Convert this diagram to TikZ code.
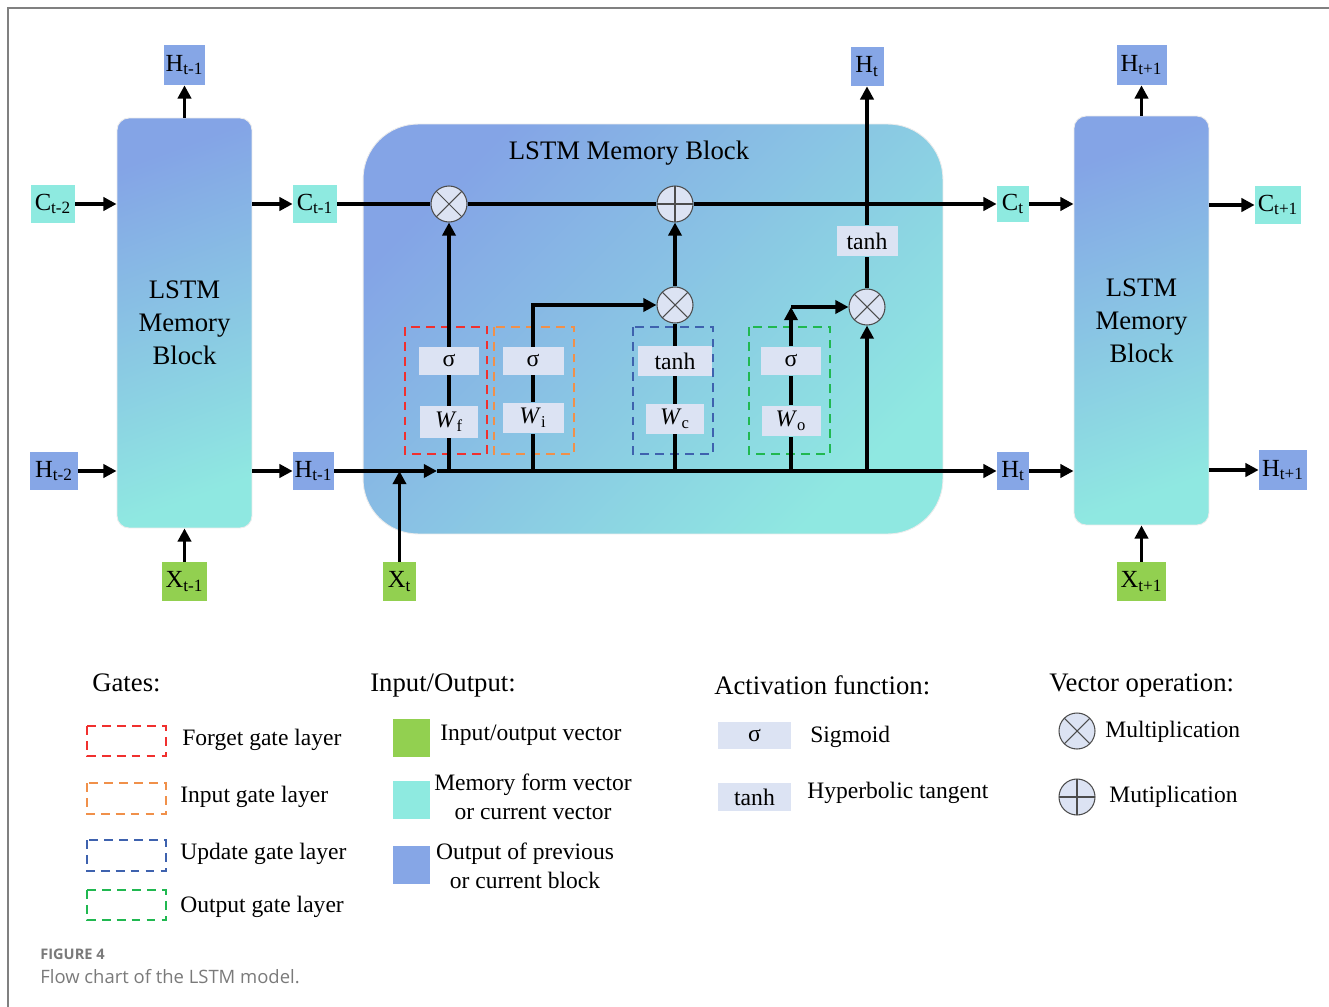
\documentclass[tikz,border=0pt]{standalone}
\usepackage{fontspec}
\setmainfont{Liberation Serif}
\newfontfamily\capfont{Open Sans}
\usetikzlibrary{arrows.meta}

\definecolor{hblue}{HTML}{86A6E6}
\definecolor{ccyan}{HTML}{8EEAE0}
\definecolor{xgreen}{HTML}{92D050}
\definecolor{opfill}{HTML}{DCE3F3}
\definecolor{blktop}{HTML}{84A4E6}
\definecolor{blkbot}{HTML}{8FE8E1}
\definecolor{gred}{HTML}{F0302E}
\definecolor{gorange}{HTML}{F0904A}
\definecolor{gblue}{HTML}{3E62AE}
\definecolor{ggreen}{HTML}{20B850}
\definecolor{capgray}{HTML}{7A7A7A}

\tikzset{
  line/.style={line width=1.9pt},
  arr/.style={line width=1.9pt, -{Triangle[length=7.5pt,width=7.5pt]}},
  vec/.style={inner sep=0pt, font=\fontsize{14}{16}\selectfont},
  hvec/.style={vec, fill=hblue},
  cvec/.style={vec, fill=ccyan},
  xvec/.style={vec, fill=xgreen},
  actbox/.style={fill=opfill, inner sep=0pt, font=\fontsize{13.5}{15}\selectfont},
  opcirc/.style={circle, draw=black!70, fill=opfill, line width=0.6pt, minimum size=0.72cm, inner sep=0pt},
  mulop/.style={opcirc, path picture={\draw[black!70, line width=0.6pt]
      (path picture bounding box.south west) -- (path picture bounding box.north east)
      (path picture bounding box.north west) -- (path picture bounding box.south east);}},
  addop/.style={opcirc, path picture={\draw[black!70, line width=0.6pt]
      (path picture bounding box.north) -- (path picture bounding box.south)
      (path picture bounding box.west) -- (path picture bounding box.east);}},
  block/.style={rounded corners=0.24cm, top color=blktop, bottom color=blkbot, shading angle=20,
      draw=white!85!gray, line width=0.5pt, align=center, font=\fontsize{15.2}{18.7}\selectfont,
      minimum width=2.7cm, minimum height=8.2cm},
  bigblock/.style={rounded corners=1.1cm, top color=blktop, bottom color=blkbot, shading angle=45,
      draw=white!85!gray, line width=0.5pt, minimum width=11.6cm, minimum height=8.2cm},
  gatebox/.style={line width=1.1pt, dash pattern=on 5pt off 3.5pt},
  legtxt/.style={anchor=west, inner sep=0pt, font=\fontsize{13.4}{16.5}\selectfont},
  legtwo/.style={inner sep=0pt, align=center, font=\fontsize{13.4}{16.5}\selectfont},
  leghead/.style={anchor=west, inner sep=0pt, font=\fontsize{15.2}{18}\selectfont},
}

\begin{document}
\begin{tikzpicture}[x=0.02cm, y=-0.02cm]
  \useasboundingbox (0,0) rectangle (1329,1007);
  \draw[gray, line width=0.9pt] (8,1007) -- (8,8) -- (1329,8);

  % memory blocks
  \node[block] (lb) at (184.5,323) {LSTM\\Memory\\Block};
  \node[bigblock] (mid) at (653,329) {};
  \node[block, minimum height=8.18cm] (rb) at (1141.5,320.5) {LSTM\\Memory\\Block};
  \node[font=\fontsize{15.2}{18}\selectfont] (title) at (629,153) {LSTM Memory Block};

  % input / output vectors
  \node[hvec, minimum width=0.82cm, minimum height=0.8cm] (Hup1) at (184.5,65) {H\textsubscript{t-1}};
  \node[cvec, minimum width=0.88cm, minimum height=0.76cm] (Cm2) at (53,204) {C\textsubscript{t-2}};
  \node[cvec, minimum width=0.88cm, minimum height=0.78cm] (Cm1) at (315,204) {C\textsubscript{t-1}};
  \node[hvec, minimum width=0.96cm, minimum height=0.78cm] (Hm2) at (54,471) {H\textsubscript{t-2}};
  \node[hvec, minimum width=0.82cm, minimum height=0.78cm] (Hm1) at (313.5,471) {H\textsubscript{t-1}};
  \node[xvec, minimum width=0.9cm, minimum height=0.78cm] (Xm1) at (184.5,581.5) {X\textsubscript{t-1}};
  \node[xvec, minimum width=0.66cm, minimum height=0.78cm] (Xt) at (399.5,581.5) {X\textsubscript{t}};
  \node[hvec, minimum width=0.66cm, minimum height=0.78cm] (Hup) at (867,66.5) {H\textsubscript{t}};
  \node[cvec, minimum width=0.64cm, minimum height=0.74cm] (Ct) at (1013,204) {C\textsubscript{t}};
  \node[hvec, minimum width=0.64cm, minimum height=0.76cm] (Ht) at (1013,471) {H\textsubscript{t}};
  \node[hvec, minimum width=1.0cm, minimum height=0.8cm] (Hup2) at (1141.5,65) {H\textsubscript{t+1}};
  \node[cvec, minimum width=0.92cm, minimum height=0.78cm] (Cp1) at (1278,205) {C\textsubscript{t+1}};
  \node[hvec, minimum width=0.96cm, minimum height=0.8cm] (Hp1) at (1283,470) {H\textsubscript{t+1}};
  \node[xvec, minimum width=0.98cm, minimum height=0.78cm] (Xp1) at (1141.5,581.5) {X\textsubscript{t+1}};

  % vector operations
  \node[mulop] (fx) at (449,204) {};
  \node[addop] (add) at (675,204) {};
  \node[mulop] (ix) at (675,305) {};
  \node[mulop] (ox) at (867,307) {};

  % activations and weights
  \node[actbox, minimum width=1.2cm, minimum height=0.56cm] (sigf) at (449,361) {σ};
  \node[actbox, minimum width=1.18cm, minimum height=0.64cm] (wf) at (449,422) {\textit{W}\textsubscript{f}};
  \node[actbox, minimum width=1.22cm, minimum height=0.56cm] (sigi) at (533,361) {σ};
  \node[actbox, minimum width=1.22cm, minimum height=0.62cm] (wi) at (533,418) {\textit{W}\textsubscript{i}};
  \node[actbox, minimum width=1.48cm, minimum height=0.6cm] (tanhc) at (675,361) {tanh};
  \node[actbox, minimum width=1.16cm, minimum height=0.6cm] (wc) at (675,419) {\textit{W}\textsubscript{c}};
  \node[actbox, minimum width=1.2cm, minimum height=0.58cm] (sigo) at (791,361) {σ};
  \node[actbox, minimum width=1.18cm, minimum height=0.62cm] (wo) at (791,421) {\textit{W}\textsubscript{o}};
  \node[actbox, minimum width=1.22cm, minimum height=0.62cm] (tanho) at (867,241) {tanh};

  % gate frames
  \draw[gatebox, gred] (405,327) rectangle (487,454);
  \draw[gatebox, gorange] (494,327) rectangle (574,454);
  \draw[gatebox, gblue] (633,327) rectangle (713,454);
  \draw[gatebox, ggreen] (749,327) rectangle (830,454);

  \coordinate (hin) at (437,471);
  \coordinate (hf) at (449,471);
  \coordinate (hi) at (533,471);
  \coordinate (hc) at (675,471);
  \coordinate (ho) at (791,471);
  \coordinate (hh) at (867,471);
  \coordinate (ocorner) at (791,307);

  % outer connections
  \draw[arr] (lb.north) -- (Hup1.south);
  \draw[arr] (Cm2.east) -- (Cm2.east -| lb.west);
  \draw[arr] (Cm1.west -| lb.east) -- (Cm1.west);
  \draw[arr] (Hm2.east) -- (Hm2.east -| lb.west);
  \draw[arr] (Hm1.west -| lb.east) -- (Hm1.west);
  \draw[arr] (Xm1.north) -- (lb.south);
  \draw[arr] (rb.north) -- (Hup2.south);
  \draw[arr] (Ct.east) -- (Ct.east -| rb.west);
  \draw[arr] (Ht.east) -- (Ht.east -| rb.west);
  \draw[arr] (Cp1.west -| rb.east) -- (Cp1.west);
  \draw[arr] (Hp1.west -| rb.east) -- (Hp1.west);
  \draw[arr] (Xp1.north) -- (Xp1.north |- rb.south);

  % cell state
  \draw[line] (Cm1.east) -- (fx.west);
  \draw[line] (fx.east) -- (add.west);
  \draw[arr] (add.east) -- (Ct.west);

  % hidden state
  \draw[arr] (Hm1.east) -- (hin);
  \draw[arr] (hin) -- (Ht.west);
  \draw[arr] (Xt.north) -- (Xt.north |- hin);

  % forget gate
  \draw[line] (hf) -- (wf.south);
  \draw[line] (wf.north) -- (sigf.south);
  \draw[arr] (sigf.north) -- (fx.south);
  % input gate
  \draw[line] (hi) -- (wi.south);
  \draw[line] (wi.north) -- (sigi.south);
  \draw[arr] (sigi.north) |- (ix.west);
  % update
  \draw[line] (hc) -- (wc.south);
  \draw[line] (wc.north) -- (tanhc.south);
  \draw[line] (tanhc.north) -- (ix.south);
  \draw[arr] (ix.north) -- (add.south);
  % output gate
  \draw[line] (ho) -- (wo.south);
  \draw[line] (wo.north) -- (sigo.south);
  \draw[arr] (sigo.north) -- (ocorner);
  \draw[arr] (ocorner) -- (ox.west);
  \draw[arr] (hh) -- (ox.south);
  \draw[line] (ox.north) -- (tanho.south);
  \draw[arr] (tanho.north) -- (Hup.south);

  % legend
  \node[leghead] (lgates) at (92,683) {Gates:};
  \draw[gatebox, gred] (87,726) rectangle (166,756);
  \draw[gatebox, gorange] (87,783) rectangle (166,814);
  \draw[gatebox, gblue] (87,840) rectangle (166,871);
  \draw[gatebox, ggreen] (87,890) rectangle (166,920);
  \node[legtxt] (lforget) at (182,740) {Forget gate layer};
  \node[legtxt] (linput) at (180,797) {Input gate layer};
  \node[legtxt] (lupdate) at (180,854) {Update gate layer};
  \node[legtxt] (loutput) at (180,907) {Output gate layer};

  \node[leghead] (lio) at (370,685) {Input/Output:};
  \node[fill=xgreen, minimum width=0.74cm, minimum height=0.76cm, inner sep=0pt] (sqx) at (411.5,738) {};
  \node[fill=ccyan, minimum width=0.74cm, minimum height=0.76cm, inner sep=0pt] (sqc) at (411.5,800) {};
  \node[fill=hblue, minimum width=0.74cm, minimum height=0.76cm, inner sep=0pt] (sqh) at (411.5,865) {};
  \node[legtxt] (lxv) at (440,735) {Input/output vector};
  \node[legtwo] (lcv) at (533,797) {Memory form vector\\or current vector};
  \node[legtwo] (lhv) at (525,866) {Output of previous\\or current block};

  \node[leghead] (lact) at (714,685) {Activation function:};
  \node[actbox, minimum width=1.46cm, minimum height=0.54cm] (lsig) at (754.5,735.5) {σ};
  \node[actbox, minimum width=1.46cm, minimum height=0.56cm] (ltanh) at (754.5,797) {tanh};
  \node[legtxt] (lsigt) at (810,737) {Sigmoid};
  \node[legtxt] (ltanht) at (807,793) {Hyperbolic tangent};

  \node[leghead] (lvec) at (1049,685) {Vector operation:};
  \node[mulop] (lmul) at (1077,731) {};
  \node[addop] (ladd) at (1077,797) {};
  \node[legtxt] (lmult) at (1105,732) {Multiplication};
  \node[legtxt] (laddt) at (1109,797) {Mutiplication};

  % caption
  \node[anchor=west, inner sep=0pt, text=capgray, font=\capfont\bfseries\fontsize{8.3}{10}\selectfont] (capnum) at (40,954) {FIGURE 4};
  \node[anchor=west, inner sep=0pt, text=capgray, font=\capfont\fontsize{10.5}{12}\selectfont] (captxt) at (40,977) {Flow chart of the LSTM model.};
\end{tikzpicture}
\end{document}
